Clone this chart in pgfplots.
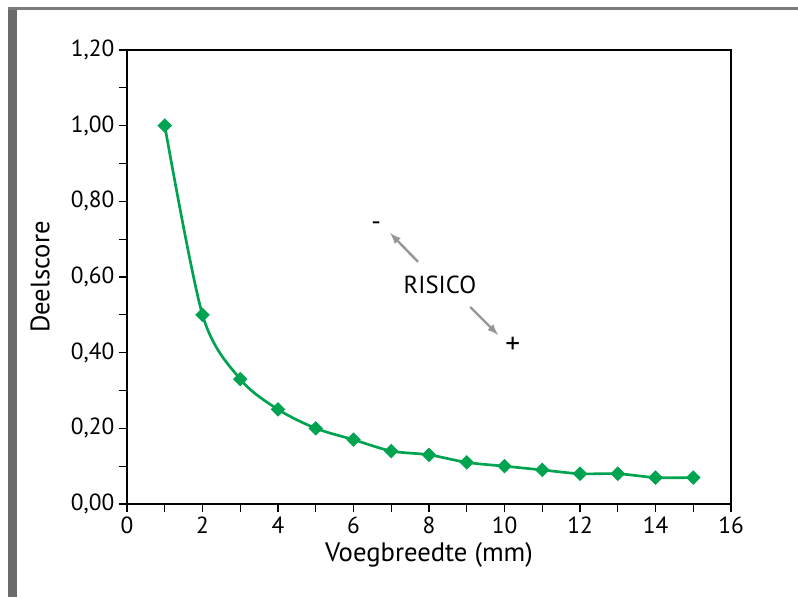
\documentclass[border=0pt]{standalone}
\usepackage{pgfplots}
\pgfplotsset{compat=1.18}
\usepackage{fontspec}
\setmainfont{PT Sans}
\definecolor{lijn}{RGB}{0,163,80}
\definecolor{kader}{RGB}{108,108,110}
\definecolor{pijl}{RGB}{150,150,150}
\begin{document}
\begin{tikzpicture}
\useasboundingbox (-95.25pt,-69.75pt) rectangle (503.25pt,378pt);
\fill[kader] (-89.25pt,-69.75pt) rectangle (-82.5pt,372.75pt);
\fill[kader!90] (-89.25pt,370.5pt) rectangle (503.25pt,372.75pt);
\begin{axis}[
  scale only axis,
  width=453pt, height=340.5pt,
  xmin=0, xmax=16, ymin=0, ymax=1.2,
  xtick={0,2,...,16}, ytick={0,0.2,...,1.2},
  minor x tick num=1, minor y tick num=1,
  tick align=outside, tick pos=left,
  major tick length=6pt, minor tick length=6pt,
  axis line style={line width=1.1pt},
  every tick/.style={black, line width=0.9pt},
  y tick label style={/pgf/number format/.cd, fixed, fixed zerofill, precision=2, use comma},
  x tick label style={/pgf/number format/.cd, fixed},
  /pgf/number format/assume math mode=true,
  tick label style={font=\fontsize{17.5}{19}\selectfont},
  label style={font=\fontsize{20}{22}\selectfont},
  xlabel={Voegbreedte (mm)},
  ylabel={Deelscore},
  xlabel style={at={(axis description cs:0.5,-0.112)}, anchor=center},
  ylabel style={at={(axis description cs:-0.144,0.5)}, anchor=center},
]
\addplot[lijn, line width=2pt, smooth, tension=0.5, mark=square*, mark size=3.6pt,
  mark options={fill=lijn, draw=lijn, line width=0.5pt, rotate=45}]
  coordinates {
  (1,1.00) (2,0.50) (3,0.33) (4,0.25) (5,0.20) (6,0.17) (7,0.14) (8,0.13)
  (9,0.11) (10,0.10) (11,0.09) (12,0.08) (13,0.08) (14,0.07) (15,0.07)
  };
\node[font=\fontsize{18.5}{20}\selectfont] at (axis cs:8.29,0.58) {RISICO};
\node[font=\fontsize{20}{22}\selectfont] at (axis cs:6.6,0.735) {-};
\node[font=\fontsize{22}{24}\selectfont] at (axis cs:10.22,0.42) {+};
\draw[pijl, line width=1.8pt, -latex] (axis cs:7.71,0.64) -- (axis cs:6.97,0.716);
\draw[pijl, line width=1.8pt, -latex] (axis cs:9.09,0.521) -- (axis cs:9.83,0.447);
\end{axis}
\end{tikzpicture}
\end{document}
